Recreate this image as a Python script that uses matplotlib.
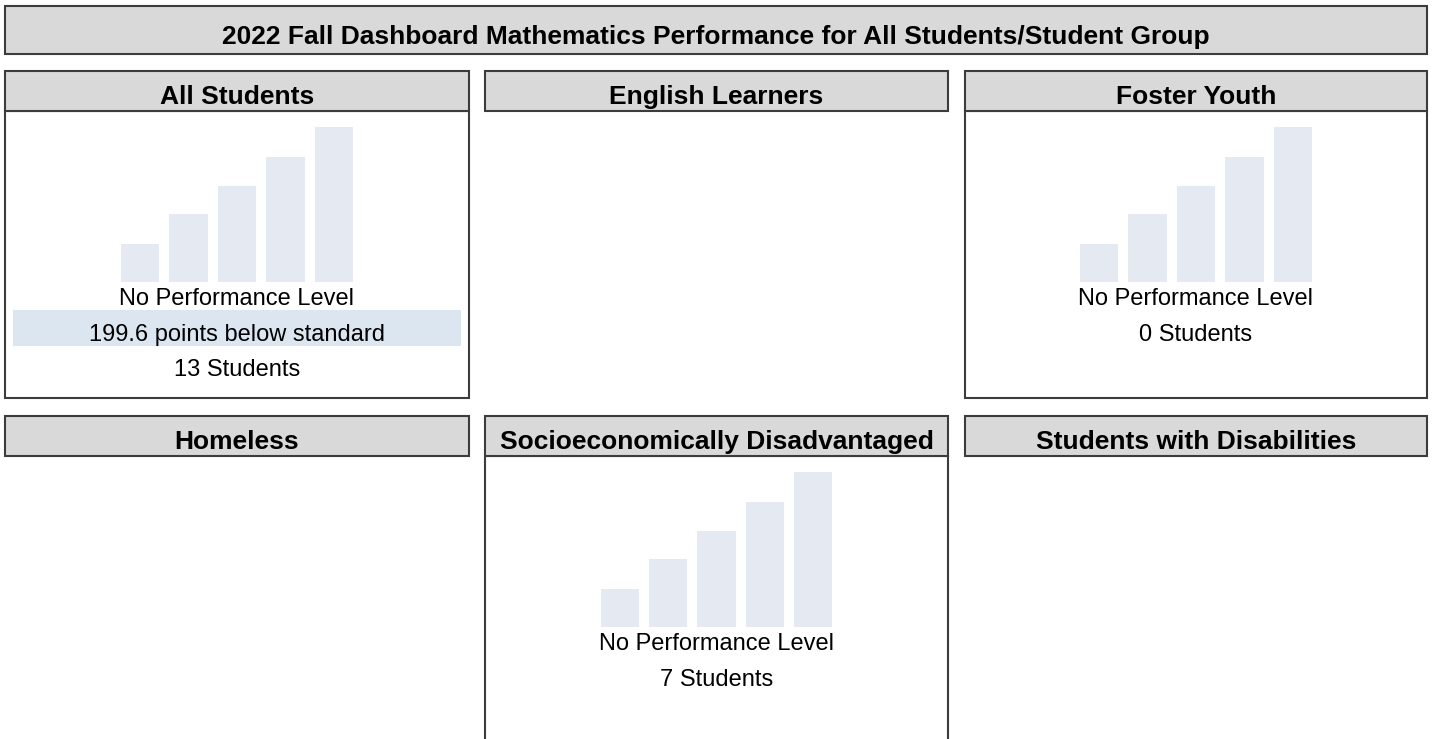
import matplotlib
matplotlib.use("Agg")
import matplotlib.pyplot as plt
from matplotlib.patches import Rectangle

plt.rcParams['font.family'] = ['Liberation Sans', 'DejaVu Sans']

# chart data
title = "2022 Fall Dashboard Mathematics Performance for All Students/Student Group"
groups = ["All Students", "English Learners", "Foster Youth",
          "Homeless", "Socioeconomically Disadvantaged", "Students with Disabilities"]
has_card = [True, False, True, False, True, False]
level_text = ["No Performance Level", "", "No Performance Level", "", "No Performance Level", ""]
distance_text = ["199.6 points below standard", "", "", "", "", ""]
student_counts = [13, None, 0, None, 7, None]
level_bars = [38, 68, 96, 125, 155]   # placeholder bars of the level gauge

W, H = 1433, 739
border = "#3c3c3c"
header_gray = "#d9d9d9"
bar_color = "#e5eaf2"
band_color = "#dce6f1"

fig = plt.figure(figsize=(W / 100, H / 100), dpi=100)
ax = fig.add_axes([0, 0, 1, 1])
ax.set_xlim(0, W)
ax.set_ylim(H, 0)
ax.axis("off")

# title bar
ax.add_patch(Rectangle((5, 6), 1422, 48, facecolor=header_gray, edgecolor=border, lw=1.5))
ax.text(716, 44, title, ha="center", va="baseline", fontsize=19, fontweight="bold")

col_x = [5, 485, 965]
col_w = [464, 463, 462]
row_y = [71, 416]
head_h = 40
body_h = 287

for i, name in enumerate(groups):
    r, c = divmod(i, 3)
    x0, w = col_x[c], col_w[c]
    y0 = row_y[r]
    cx = x0 + w / 2
    ax.add_patch(Rectangle((x0, y0), w, head_h, facecolor=header_gray,
                           edgecolor=border, lw=1.5, zorder=3))
    ax.text(cx, y0 + 33, name, ha="center", va="baseline",
            fontsize=19, fontweight="bold", zorder=4)
    if not has_card[i]:
        continue
    ax.add_patch(Rectangle((x0, y0 + head_h), w, body_h, facecolor="white",
                           edgecolor=border, lw=1.5, zorder=1))

    # level gauge bars in their own axes
    top = y0 + head_h + 16
    bottom = top + 155
    left = cx - 121
    bx = fig.add_axes([left / W, 1 - bottom / H, 242 / W, 155 / H])
    bx.bar(range(len(level_bars)), level_bars, width=0.79, color=bar_color)
    bx.set_xlim(-0.5, len(level_bars) - 0.5)
    bx.set_ylim(0, max(level_bars))
    bx.axis("off")

    ty = bottom + 23
    ax.text(cx, ty, level_text[i], ha="center", va="baseline", fontsize=17, zorder=4)
    ty += 36
    if distance_text[i]:
        ax.add_patch(Rectangle((x0 + 8, ty - 31), w - 16, 36, facecolor=band_color,
                               edgecolor="none", zorder=2))
        ax.text(cx, ty, distance_text[i], ha="center", va="baseline", fontsize=17, zorder=4)
        ty += 35
    ax.text(cx, ty, f"{student_counts[i]} Students", ha="center", va="baseline",
            fontsize=17, zorder=4)

fig.savefig("out.png", dpi=100)
